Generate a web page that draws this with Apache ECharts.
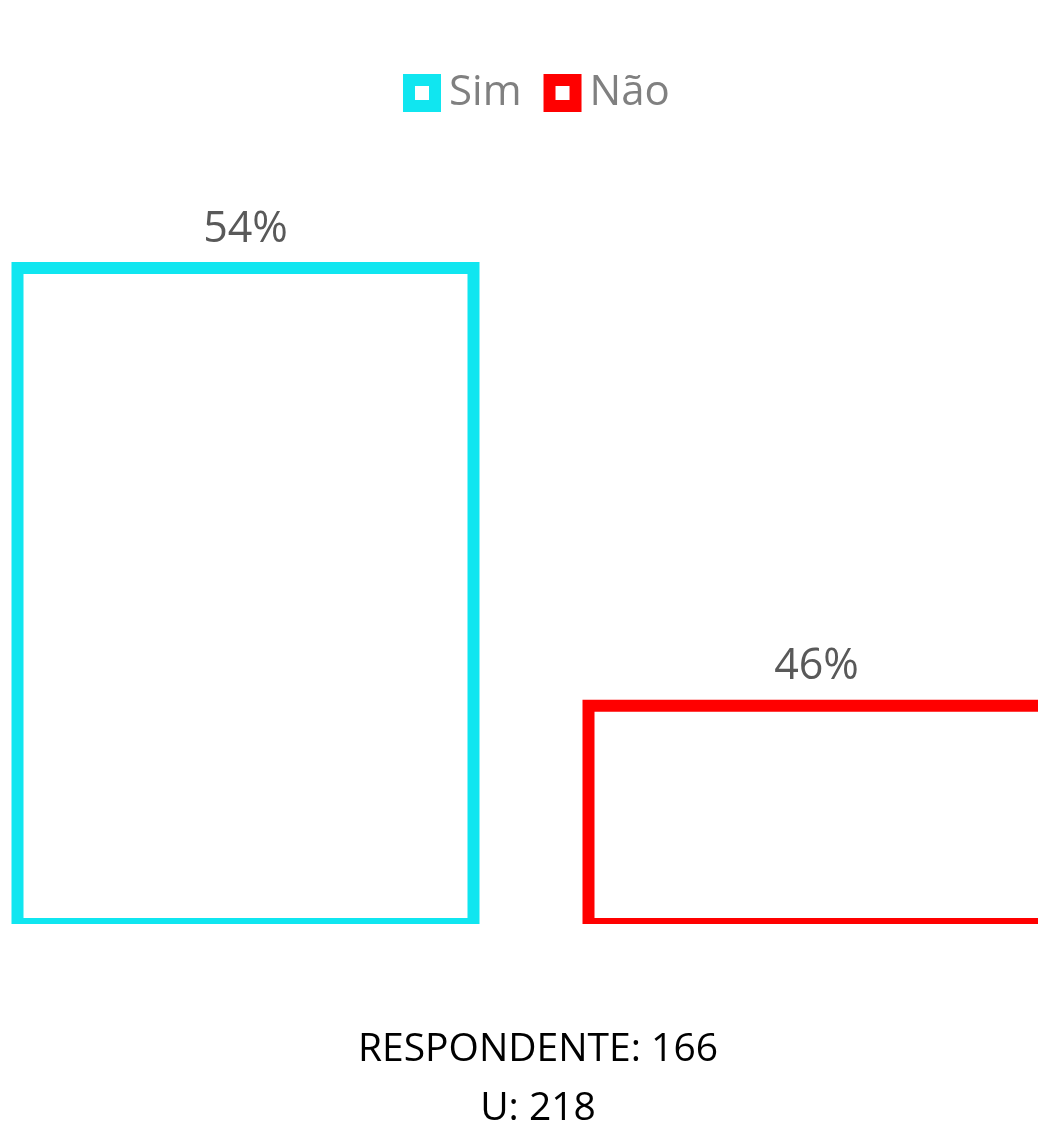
<!DOCTYPE html>
<html>
<head>
<meta charset="utf-8">
<script src="https://cdn.jsdelivr.net/npm/echarts@6/dist/echarts.min.js"></script>
<style>
html,body{margin:0;padding:0;background:#fff;overflow:hidden;width:1038px;height:1122px;}
#c{width:1142px;height:1122px;margin-left:-40px;}
</style>
</head>
<body>
<div id="c"></div>
<script>
const categories = ['Sim', 'Não'];
const seriesNames = ['Sim', 'Não'];
const values = [54, 46];
const seriesColors = ['#10E6F0', '#FF0000'];
const footerLines = ['RESPONDENTE: 166', 'U: 218'];

const FONT = '"Open Sans", sans-serif';
const OFFSET = 40; // container is shifted left by this many px
const chart = echarts.init(document.getElementById('c'), null, {renderer: 'canvas'});

const series = seriesNames.map((name, i) => ({
  name: name,
  type: 'bar',
  barWidth: 468,
  barGap: '-100%',
  data: categories.map((c, j) => (j === i ? values[j] : '-')),
  itemStyle: {color: '#FFFFFF', borderColor: seriesColors[i], borderWidth: 12},
  label: {
    show: true,
    position: 'top',
    distance: 11,
    formatter: '{c}%',
    color: '#595959',
    fontSize: 43,
    fontFamily: FONT
  },
  emphasis: {disabled: true}
}));

chart.setOption({
  animation: false,
  backgroundColor: '#FFFFFF',
  color: seriesColors,
  legend: {
    top: 72,
    left: 403 + OFFSET,
    padding: 0,
    itemGap: 22,
    itemWidth: 26,
    itemHeight: 26,
    icon: 'rect',
    itemStyle: {borderWidth: 12},
    textStyle: {color: '#808080', fontSize: 42, fontFamily: FONT, padding: [0, 0, 0, 9]},
    selectedMode: false
  },
  grid: {left: 0, right: 0, top: 152.6, bottom: 198, containLabel: false},
  xAxis: {
    type: 'category',
    data: categories,
    z: 10,
    offset: 6,
    axisLine: {show: true, lineStyle: {color: '#FFFFFF', width: 12}},
    axisTick: {show: false},
    axisLabel: {show: false},
    splitLine: {show: false}
  },
  yAxis: {
    type: 'value',
    min: 41.9,
    max: 56,
    show: false,
    splitLine: {show: false}
  },
  graphic: [{
    type: 'text',
    x: 538 + OFFSET,
    y: 1020,
    style: {
      text: footerLines.join('\n'),
      textAlign: 'center',
      align: 'center',
      fill: '#000000',
      fontSize: 39,
      lineHeight: 59,
      fontFamily: FONT
    }
  }],
  series: series
});
</script>
</body>
</html>
